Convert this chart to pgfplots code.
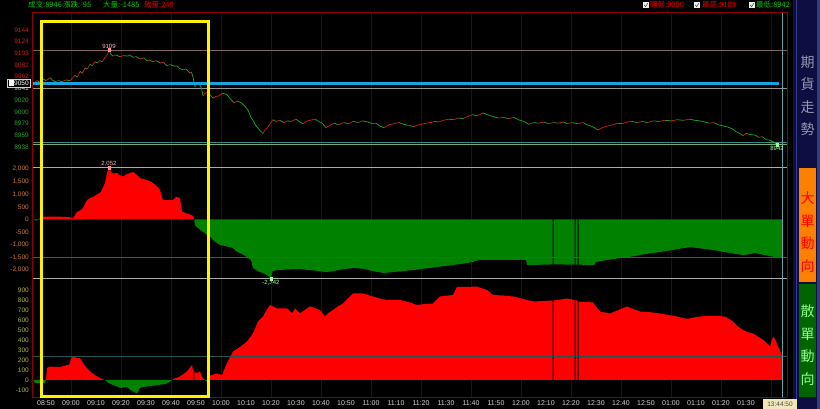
\documentclass[border=0pt]{standalone}
\usepackage{pgfplots}
\pgfplotsset{compat=1.18}
\usepackage{fontspec}
\setmainfont{Liberation Sans}
\newfontfamily\cjk{Noto Sans CJK TC}
\definecolor{gridred}{RGB}{75,0,0}
\definecolor{framered}{RGB}{140,0,0}
\definecolor{upred}{RGB}{255,0,0}
\definecolor{dngreen}{RGB}{0,130,0}
\definecolor{pxred}{RGB}{210,30,20}
\definecolor{pxgreen}{RGB}{30,170,30}
\definecolor{curteal}{RGB}{60,140,140}
\definecolor{openblue}{RGB}{20,165,225}
\definecolor{navy}{RGB}{14,14,66}
\definecolor{lblred}{RGB}{200,30,30}
\definecolor{lblgreen}{RGB}{40,160,40}
\definecolor{lblwhite}{RGB}{210,210,210}
\definecolor{lblorange}{RGB}{205,120,50}
\definecolor{lblyellow}{RGB}{180,180,60}
\definecolor{hdrgreen}{RGB}{0,200,0}
\definecolor{hdrred}{RGB}{230,0,0}
\definecolor{hiline}{RGB}{130,100,100}
\definecolor{greyline}{RGB}{150,150,150}
\definecolor{lowline}{RGB}{120,170,120}
\definecolor{markpink}{RGB}{255,140,140}
\definecolor{marklgreen}{RGB}{150,255,150}
\definecolor{sidegrey}{RGB}{150,150,175}
\definecolor{sidegreentext}{RGB}{140,255,140}
\definecolor{tagbeige}{RGB}{240,230,185}
\definecolor{sideedge}{RGB}{50,60,130}
\definecolor{boxorange}{RGB}{255,128,0}
\definecolor{boxgreen}{RGB}{0,100,0}

\pgfplotsset{
  panel/.style={
    scale only axis, width=755pt, anchor=south west,
    xmin=-0.6, xmax=301.4,
    axis line style={draw=none},
    major tick length=0pt,
    xtick={15,35,...,295}, xticklabels={},
    xmajorgrids, major grid style={gridred, line width=0.7pt},
    tick label style={font=\fontsize{6.5}{7}\selectfont},
    yticklabel style={inner sep=0pt, xshift=-3pt},
    clip=false,
    /pgf/number format/assume math mode=true,
  }
}

\begin{document}
\begin{tikzpicture}
\fill[black] (0pt,0pt) rectangle (820pt,409pt);
\useasboundingbox (0pt,0pt) rectangle (820pt,409pt);

% ---------------- top panel: futures price ----------------
\begin{axis}[panel, at={(32pt,252pt)}, height=145pt, ymin=8920.4, ymax=9175.7,
  ytick={9144,9124,9103,9082,9062,9041,9020,9000,8979,8959,8938},
  yticklabels={\textcolor{lblred}{9144},\textcolor{lblred}{9124},\textcolor{lblred}{9103},\textcolor{lblred}{9082},\textcolor{lblred}{9062},\textcolor{lblwhite}{9041},\textcolor{lblgreen}{9020},\textcolor{lblgreen}{9000},\textcolor{lblgreen}{8979},\textcolor{lblgreen}{8959},\textcolor{lblgreen}{8938}},
  colormap={rg}{color(0)=(pxgreen) color(1)=(pxred)},
  point meta min=0, point meta max=1]
\addplot[hiline, line width=0.7pt] coordinates {(-0.6,9109) (301.4,9109)};
\addplot[greyline, line width=0.7pt] coordinates {(-0.6,9041) (301.4,9041)};
\addplot[curteal, line width=0.7pt] coordinates {(-0.6,8946) (301.4,8946)};
\addplot[lowline, line width=0.7pt] coordinates {(-0.6,8942) (301.4,8942)};
\addplot[mesh, shader=flat corner, point meta=explicit, line width=0.7pt] table[x=m, y=p, meta=c] {
m p c
0 9050 1
1.5 9055 0
2.5 9052 1
3.8 9058 0
5 9055 1
6.6 9060 0
7.5 9056 0
8.6 9053 1
10 9055 0
11.4 9053 1
13 9056 0
14.6 9055 1
15.5 9059 1
16.6 9064 0
17.5 9061 1
18.6 9071 0
19.5 9068 1
20.6 9077 0
21.5 9075 1
22.6 9084 0
23.5 9081 1
24.6 9088 0
25.5 9086 1
26.6 9090 0
27.5 9088 1
28.6 9096 1
29.5 9100 1
30.2 9108 0
31 9101 0
31.8 9098 1
33 9100 0
34.6 9097 1
36 9099 0
37.4 9098 1
38.5 9100 0
39.8 9096 1
41 9097 0
42.6 9093 1
44 9095 0
45.4 9090 1
46.5 9091 0
47.8 9088 1
49 9090 0
50.6 9086 1
52 9087 0
53.4 9081 1
54.5 9083 0
55.4 9082 0
56.5 9080 1
57.4 9081 0
58.5 9076 0
59.8 9074 1
61 9075 0
62.6 9068 1
63.2 9070 0
63.8 9061 0
64.6 9044 1
65.5 9049 0
66.6 9047 0
67.3 9040 0
67.8 9028 1
68.8 9033 1
69.8 9035 0
70.8 9029 0
71.8 9024 1
73 9027 1
74.2 9028 1
75.5 9033 0
77.4 9030 0
78.5 9024 0
80.2 9016 1
81.5 9019 0
83.4 9015 0
84.5 9010 0
85.8 9003 0
87 8990 0
88.2 8982 0
89 8975 0
89.8 8971 0
90.8 8966 0
91.8 8962 1
92.6 8968 1
93.4 8971 1
94.5 8978 1
95.8 8986 0
97 8983 1
98.5 8985 0
100.2 8981 1
101.5 8984 0
103 8983 1
105 8987 0
106.5 8982 0
107.8 8979 1
109 8983 1
110.5 8985 1
112.6 8987 0
114 8983 0
115.5 8980 0
117 8972 1
118.5 8976 1
120.2 8980 0
122 8977 1
124 8981 0
126 8979 1
127.8 8983 0
130 8981 1
131.5 8984 0
133.8 8982 0
135.5 8979 1
137 8980 0
138.5 8975 0
140.2 8972 1
142 8977 1
144 8979 1
146.2 8981 0
148 8978 0
150 8976 0
152.2 8974 1
154 8977 1
156 8979 1
158.6 8981 1
160.5 8983 0
162 8982 1
164 8985 1
166.2 8987 0
168 8986 1
170 8989 0
171.8 8988 1
173.8 8992 1
175.5 8995 0
177.5 8993 1
179.8 8998 0
181.5 8995 0
183.5 8992 0
185.8 8989 1
188 8990 0
190 8988 1
192.2 8990 0
194 8986 0
196 8983 0
198.2 8978 1
200 8981 0
202 8980 1
204.2 8982 0
206 8979 1
208 8981 0
210 8980 1
212 8982 0
213.4 8979 1
215.5 8981 0
217.5 8979 1
219.8 8981 0
221.5 8977 0
223.5 8974 0
225.8 8968 1
227.5 8972 1
229.5 8975 1
231.8 8977 1
233.5 8980 0
235.5 8979 1
237.5 8982 1
239.4 8983 0
241.5 8981 1
243.5 8983 0
245.5 8981 1
248 8984 0
250.2 8983 1
252.5 8985 0
255 8984 1
257.5 8986 0
260 8985 1
262.6 8987 0
264.5 8985 0
266.5 8984 0
268.5 8982 0
270.2 8980 1
272 8981 0
274 8977 0
276 8975 0
277.8 8973 0
279.5 8970 0
281 8965 0
282.5 8962 0
283.8 8958 1
285 8962 0
286.5 8960 0
288.6 8959 0
290 8955 1
291.5 8956 0
293 8951 0
294.5 8950 0
296 8947 0
297.4 8942 1
298.5 8946 0
};
\addplot[openblue, line width=3pt] coordinates {(-0.6,9050) (298.2,9050)};
\addplot[curteal!80!white, line width=0.7pt] coordinates {(299.4,8920.4) (299.4,9175.7)};
\addplot[only marks, mark=square*, mark size=1.3pt, color=markpink,
  nodes near coords={9109},
  every node near coord/.style={font=\fontsize{6}{7}\selectfont, text=markpink!60!white, anchor=south, inner sep=1pt}]
  coordinates {(30.2,9109)};
\addplot[only marks, mark=square*, mark size=1.3pt, color=marklgreen,
  nodes near coords={8942},
  every node near coord/.style={font=\fontsize{6}{7}\selectfont, text=marklgreen, anchor=north, inner sep=1.5pt}]
  coordinates {(297.4,8942)};
\end{axis}

% ---------------- middle panel: big orders ----------------
\begin{axis}[panel, at={(32pt,126pt)}, height=126pt, ymin=-2515, ymax=2475,
  ytick={-2000,-1500,...,2000},
  yticklabel style={color=lblorange},
  /pgf/number format/1000 sep={,}]
\addplot[fill=dngreen, draw=none] table {
0 0
0.3 -30
1.5 -40
1.8 0
} \closedcycle;
\addplot[fill=upred, draw=none] table {
1.8 0
2.5 40
3.5 100
4.5 110
6 118
8 115
10 112
12 105
14 95
15.8 60
16.5 150
17.4 310
18 320
19 380
19.8 450
20.5 600
21.5 780
22.6 850
24 900
25.5 1000
26.6 1050
27.5 1200
28.6 1450
29.4 1850
30.2 2052
31 1880
32 1820
33.4 1840
34.5 1760
35.8 1700
37 1780
38.6 1840
39.8 1880
41 1800
42.6 1640
44 1600
45.4 1560
47 1500
47.8 1440
49 1350
50.6 1170
51.8 770
55.8 770
56.5 850
57.4 900
58.6 850
59.4 310
61 250
63.8 150
64.3 0
} \closedcycle;
\addplot[fill=dngreen, draw=none] table {
64.3 0
64.6 -220
66.6 -415
68 -500
69.4 -610
71 -700
71.8 -810
73 -900
74.6 -1010
77 -1060
79.8 -1130
81 -1250
82.6 -1330
84 -1400
85.4 -1500
87 -1600
87.8 -1920
89 -2000
90.5 -2080
91.8 -2120
93.4 -2200
95 -2342
95.6 -2050
97.4 -2000
100 -1990
103 -1970
106.6 -1960
110 -2000
113 -2030
117 -2080
119 -2060
122 -2000
125 -1960
127.8 -1920
132 -1950
136 -2050
140.2 -2120
144 -2080
148 -2040
152.2 -2000
156 -1950
160 -1900
164 -1850
167.8 -1800
171 -1760
175 -1700
178.2 -1600
188 -1600
197 -1600
197.4 -1800
204 -1790
207.6 -1780
207.6 0
208.0 0
208.0 -1780
211 -1780
216.4 -1790
216.4 0
216.8 0
216.8 -1790
217.6 -1790
217.6 0
218.0 0
218.0 -1790
224.4 -1800
225 -1680
231 -1580
238.6 -1480
244 -1380
250.6 -1290
256 -1200
262.6 -1090
267 -1150
271.8 -1210
277 -1300
283.8 -1410
286 -1380
288.6 -1330
292 -1400
296.2 -1480
299.4 -1485
299.4 0
} \closedcycle;
\addplot[greyline!80!white, line width=0.7pt] coordinates {(-0.6,2052) (301.4,2052)};
\addplot[curteal!70!black, line width=0.7pt] coordinates {(-0.6,-1485) (301.4,-1485)};
\addplot[greyline!80!white, line width=0.7pt] coordinates {(-0.6,-2342) (301.4,-2342)};
\addplot[curteal!80!white, line width=0.7pt] coordinates {(299.4,-2515) (299.4,2475)};
\addplot[only marks, mark=square*, mark size=1.3pt, color=markpink,
  nodes near coords={2,052},
  every node near coord/.style={font=\fontsize{6}{7}\selectfont, text=markpink!60!white, anchor=south, inner sep=1pt}]
  coordinates {(30.2,2052)};
\addplot[only marks, mark=square*, mark size=1.3pt, color=marklgreen,
  nodes near coords={-2,342},
  every node near coord/.style={font=\fontsize{6}{7}\selectfont, text=marklgreen, anchor=north, inner sep=1pt}]
  coordinates {(95,-2342)};
\end{axis}

% ---------------- bottom panel: retail orders ----------------
\begin{axis}[panel, at={(32pt,12pt)}, height=114pt, ymin=-170, ymax=970,
  ytick={-100,0,...,900},
  yticklabel style={color=lblyellow},
  extra x ticks={5,15,...,285},
  extra x tick labels={08:50,09:00,09:10,09:20,09:30,09:40,09:50,10:00,10:10,10:20,10:30,10:40,10:50,11:00,11:10,11:20,11:30,11:40,11:50,12:00,12:10,12:20,12:30,12:40,12:50,01:00,01:10,01:20,01:30},
  extra x tick style={grid=none, xticklabel style={color=lblwhite, font=\fontsize{7}{8}\selectfont, inner sep=0pt, yshift=-3.5pt}}]
\addplot[fill=dngreen, draw=none] table {
0 0
0.5 -30
4.5 -30
5 0
} \closedcycle;
\addplot[fill=upred, draw=none] table {
5 0
5.4 120
6.6 135
8.5 130
10.6 130
12 140
13.4 150
14.2 150
15.4 235
16.4 230
17.5 220
18.6 220
19.8 170
21 130
22.6 85
24 60
25.4 35
27.4 10
28.6 0
} \closedcycle;
\addplot[fill=dngreen, draw=none] table {
28.6 0
30 -30
31.8 -50
33 -60
34.6 -80
36 -75
37.4 -70
38.5 -95
39.8 -115
41.4 -135
42 -110
42.6 -80
44 -70
45.4 -65
47.5 -60
49.4 -50
51.5 -45
53.4 -35
55.4 0
} \closedcycle;
\addplot[fill=upred, draw=none] table {
55.4 0
57 20
58.6 35
60 60
61.4 85
62.5 120
63.4 150
63.8 100
64.0 100
64.0 0
64.3 0
64.3 80
65.4 70
66.6 85
67.8 15
68.6 0
} \closedcycle;
\addplot[fill=dngreen, draw=none] table {
68.6 0
69 -15
69.8 0
} \closedcycle;
\addplot[fill=upred, draw=none] table {
69.8 0
70.5 40
71.4 50
73.4 65
75.4 50
77.4 170
79.8 285
82.6 330
85.4 385
87.8 465
89.8 585
91.8 635
93 690
94.6 750
97.4 715
101.4 715
103.4 665
104.6 715
106.6 665
108.5 700
110.6 735
112.5 720
114.6 700
116.6 635
118 670
119.8 700
122 740
123.8 765
126 820
127.8 865
131.8 865
135.8 835
138.5 815
141.4 800
146.6 800
150 780
153.4 750
156.5 760
159.8 765
162.6 835
167.8 850
169.4 930
173 930
177.4 935
179.5 915
181.4 900
183.8 850
188 845
191.8 835
196 810
199.8 785
204 790
207.6 795
207.6 0
208.0 0
208.0 795
211 805
213.4 815
216.4 800
216.4 0
216.8 0
216.8 800
217.6 790
217.6 0
218.0 0
218.0 785
221 780
223.8 775
226.6 685
228.5 675
230.6 665
234 700
237.4 735
240 710
242.6 685
246 680
250.6 665
254 650
257.4 635
261.4 610
264 625
266.6 635
270 640
274.6 640
277 630
279.8 585
281.5 540
283.8 500
285.5 480
287.8 465
290 430
292 400
293.4 365
294.6 335
295.8 435
296.8 400
297.8 335
298.8 280
299.4 235
299.4 0
} \closedcycle;
\addplot[curteal!60!black, line width=0.7pt] coordinates {(-0.6,240) (301.4,240)};
\addplot[curteal!80!white, line width=0.7pt] coordinates {(299.4,-170) (299.4,970)};
\end{axis}

\begin{scope}[x=1pt, y=1pt]
% frame
\draw[framered, line width=0.8pt] (32,397) -- (787,397);
\draw[framered, line width=0.8pt] (32,12) -- (787,12);
\draw[framered, line width=0.8pt] (32,12) -- (32,397);
\draw[framered, line width=0.8pt] (787,12) -- (787,397);
% yellow annotation box
\draw[yellow, line width=3pt] (41,387) rectangle (208,12.5);
% open price tag on left
\draw[lblwhite, line width=0.5pt, fill=black] (7,322) rectangle (30,330);
\fill[white] (8.5,323.2) rectangle (13.5,328.8);
\node[anchor=west, inner sep=0pt, text=white, font=\fontsize{6.5}{7}\selectfont] at (14,326) {9050};
% header
\node[anchor=west, inner sep=0pt, text=hdrgreen, font=\cjk\fontsize{7.5}{8}\selectfont] at (28,404) {成交:8946};
\node[anchor=west, inner sep=0pt, text=hdrgreen, font=\cjk\fontsize{7.5}{8}\selectfont] at (63,404) {漲跌:-95};
\node[anchor=west, inner sep=0pt, text=hdrgreen, font=\cjk\fontsize{7.5}{8}\selectfont] at (103,404) {大量:-1485};
\node[anchor=west, inner sep=0pt, text=hdrred, font=\cjk\fontsize{7.5}{8}\selectfont] at (144,404) {散量:240};
\foreach \cx in {643,694,749} {
  \fill[white!85!gray] (\cx,401) rectangle (\cx+6,407);
  \draw[black!75, line width=0.5pt] (\cx+1.2,404) -- (\cx+2.6,402.4) -- (\cx+4.8,405.8);
}
\node[anchor=west, inner sep=0pt, text=hdrred, font=\cjk\fontsize{7.5}{8}\selectfont] at (650,404) {開盤:9050};
\node[anchor=west, inner sep=0pt, text=hdrred, font=\cjk\fontsize{7.5}{8}\selectfont] at (702,404) {最高:9109};
\node[anchor=west, inner sep=0pt, text=hdrgreen, font=\cjk\fontsize{7.5}{8}\selectfont] at (756,404) {最低:8942};
% sidebar
\fill[navy] (793,0) rectangle (820,409);
\draw[sideedge, line width=0.8pt] (796.5,0) -- (796.5,409);
\fill[sideedge] (817,0) rectangle (820,409);
\node[align=center, text=sidegrey, font=\cjk\fontsize{14}{22.5}\selectfont, inner sep=0pt] at (807.5,313) {期\\貨\\走\\勢};
\fill[boxorange] (799,127) rectangle (816,241);
\node[align=center, text=red, font=\cjk\fontsize{14}{22.5}\selectfont, inner sep=0pt] at (807.5,177) {大\\單\\動\\向};
\fill[boxgreen] (799,12) rectangle (816,125);
\node[align=center, text=sidegreentext, font=\cjk\fontsize{14}{22.5}\selectfont, inner sep=0pt] at (807.5,64) {散\\單\\動\\向};
% time tag
\fill[tagbeige] (763,0) rectangle (797,9.5);
\node[inner sep=0pt, text=black!70, font=\fontsize{6.5}{7}\selectfont] at (780,4.8) {13:44:50};
\end{scope}
\end{tikzpicture}
\end{document}
